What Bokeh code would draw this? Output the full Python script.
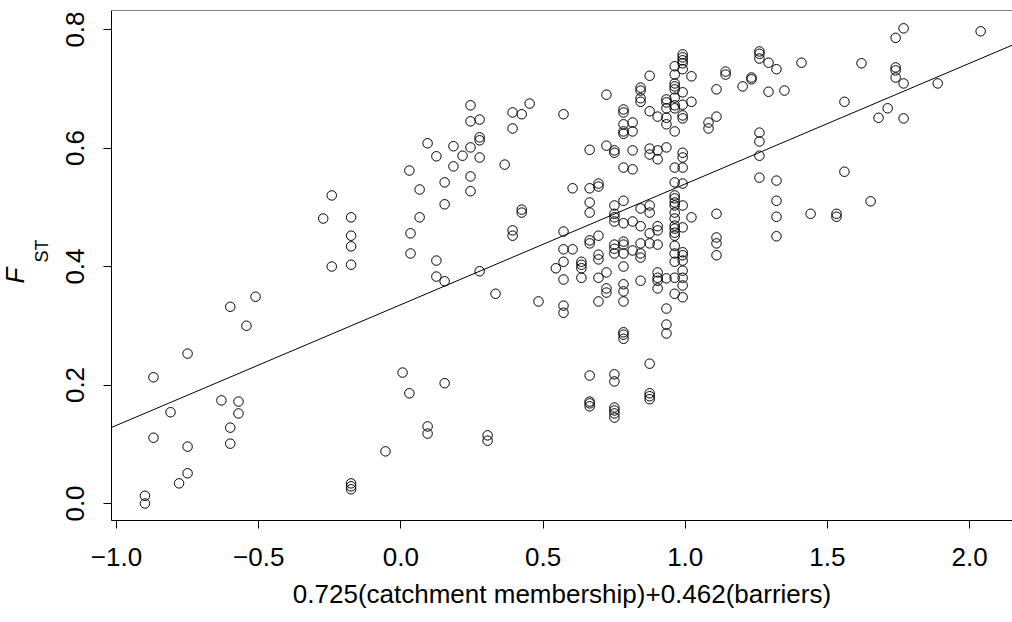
from bokeh.embed import file_html
from bokeh.models import ColumnDataSource, FixedTicker, Range1d, Slope, Span, Title
from bokeh.plotting import figure
from bokeh.resources import INLINE

# Composite score 0.725(catchment membership)+0.462(barriers) for each pair of sites,
# and the F_ST values observed at each score level
score_levels = [
    -0.900, -0.870, -0.810, -0.780, -0.750, -0.631, -0.600, -0.571, -0.543, -0.511,
    -0.273, -0.243, -0.175, -0.054, 0.006, 0.030, 0.034, 0.066, 0.094, 0.125,
    0.154, 0.185, 0.217, 0.245, 0.277, 0.305, 0.333, 0.365, 0.393, 0.425,
    0.453, 0.484, 0.545, 0.572, 0.604, 0.635, 0.664, 0.695, 0.723, 0.751,
    0.783, 0.815, 0.843, 0.875, 0.903, 0.934, 0.963, 0.991, 1.022, 1.082,
    1.110, 1.142, 1.202, 1.233, 1.261, 1.293, 1.321, 1.349, 1.409, 1.441,
    1.532, 1.560, 1.620, 1.652, 1.680, 1.712, 1.740, 1.768, 1.888, 2.039,
]

fst_at_level = [
    [0.013, 0.000],
    [0.213, 0.111],
    [0.154],
    [0.034],
    [0.253, 0.096, 0.051],
    [0.174],
    [0.332, 0.128, 0.101],
    [0.172, 0.152],
    [0.300],
    [0.349],
    [0.481],
    [0.520, 0.400],
    [0.483, 0.452, 0.434, 0.403, 0.034, 0.029, 0.024],
    [0.088],
    [0.221],
    [0.562, 0.186],
    [0.456, 0.422],
    [0.530, 0.483],
    [0.608, 0.130, 0.118],
    [0.586, 0.410, 0.383],
    [0.542, 0.505, 0.375, 0.203],
    [0.603, 0.569],
    [0.587],
    [0.672, 0.645, 0.601, 0.552, 0.527],
    [0.648, 0.618, 0.613, 0.584, 0.392],
    [0.115, 0.106],
    [0.354],
    [0.572],
    [0.660, 0.633, 0.461, 0.452],
    [0.657, 0.496, 0.491],
    [0.675],
    [0.341],
    [0.397],
    [0.657, 0.459, 0.429, 0.408, 0.378, 0.334, 0.322],
    [0.532, 0.429],
    [0.408, 0.403, 0.397, 0.381],
    [0.597, 0.532, 0.508, 0.491, 0.444, 0.439, 0.216, 0.172, 0.169, 0.164],
    [0.540, 0.535, 0.452, 0.420, 0.412, 0.381, 0.341],
    [0.690, 0.604, 0.390, 0.363, 0.356],
    [0.596, 0.592, 0.503, 0.489, 0.483, 0.476, 0.437, 0.430, 0.422, 0.218,
     0.206, 0.162, 0.157, 0.152, 0.145],
    [0.665, 0.660, 0.640, 0.628, 0.624, 0.567, 0.511, 0.473, 0.442, 0.437,
     0.422, 0.400, 0.370, 0.358, 0.341, 0.289, 0.285, 0.278],
    [0.643, 0.628, 0.596, 0.564, 0.476, 0.427],
    [0.702, 0.697, 0.684, 0.678, 0.498, 0.468, 0.439, 0.422, 0.415, 0.376],
    [0.722, 0.662, 0.599, 0.589, 0.503, 0.491, 0.456, 0.439, 0.236, 0.186,
     0.181, 0.176],
    [0.653, 0.596, 0.581, 0.468, 0.461, 0.437, 0.390, 0.381, 0.376, 0.363],
    [0.682, 0.677, 0.667, 0.651, 0.640, 0.601, 0.380, 0.329, 0.302, 0.287],
    [0.738, 0.724, 0.709, 0.704, 0.699, 0.685, 0.672, 0.667, 0.628, 0.567,
     0.542, 0.520, 0.515, 0.508, 0.503, 0.491, 0.481, 0.469, 0.464, 0.457,
     0.452, 0.435, 0.422, 0.408, 0.381, 0.354],
    [0.758, 0.753, 0.748, 0.743, 0.733, 0.694, 0.673, 0.655, 0.650, 0.592,
     0.584, 0.567, 0.540, 0.503, 0.466, 0.424, 0.419, 0.410, 0.393, 0.381,
     0.368, 0.348],
    [0.721, 0.678, 0.483],
    [0.643, 0.633],
    [0.699, 0.653, 0.489, 0.449, 0.439, 0.419],
    [0.729, 0.724],
    [0.704],
    [0.719, 0.716],
    [0.763, 0.759, 0.751, 0.626, 0.611, 0.587, 0.550],
    [0.744, 0.695],
    [0.733, 0.545, 0.511, 0.484, 0.451],
    [0.697],
    [0.744],
    [0.489],
    [0.489, 0.484],
    [0.678, 0.560],
    [0.743],
    [0.510],
    [0.651],
    [0.667],
    [0.786, 0.736, 0.731, 0.719],
    [0.802, 0.709, 0.650],
    [0.709],
    [0.797],
]

x_ticks = [-1.0, -0.5, 0.0, 0.5, 1.0, 1.5, 2.0]
x_tick_labels = ["\u22121.0", "\u22120.5", "0.0", "0.5", "1.0", "1.5", "2.0"]
y_ticks = [0.0, 0.2, 0.4, 0.6, 0.8]
y_tick_labels = ["0.0", "0.2", "0.4", "0.6", "0.8"]

# Least-squares line F_ST = a + b * score
fit_intercept = 0.3356
fit_slope = 0.2037

x_label = "0.725(catchment membership)+0.462(barriers)"

FONT = "Liberation Sans"

# Flatten the levels into one point table
xs, ys = [], []
for level, values in zip(score_levels, fst_at_level):
    for v in values:
        xs.append(level)
        ys.append(v)
source = ColumnDataSource(data=dict(score=xs, fst=ys))

p = figure(
    width=1012,
    height=622,
    output_backend="svg",
    toolbar_location=None,
    x_range=Range1d(-1.0176, 2.151),
    y_range=Range1d(-0.0287, 0.8321),
    min_border_left=111,
    min_border_right=0,
    min_border_top=10,
    min_border_bottom=102,
    background_fill_color="white",
    border_fill_color="white",
)
p.outline_line_color = None
p.xgrid.visible = False
p.ygrid.visible = False

# Points: open circles
p.scatter(
    "score", "fst", source=source, marker="circle", size=9.5,
    fill_color=None, line_color="black", line_width=1.0,
)

# Regression line across the whole plotting region
p.add_layout(Slope(gradient=fit_slope, y_intercept=fit_intercept,
                   line_color="black", line_width=1.0))

# Top edge of the box
p.add_layout(Span(location=0.8321, dimension="width",
                  line_color="black", line_width=1.0))

# Axes
for ax in (p.xaxis[0], p.yaxis[0]):
    ax.axis_line_color = "black"
    ax.axis_line_width = 1.0
    ax.major_tick_line_color = "black"
    ax.major_tick_in = 0
    ax.major_tick_out = 8
    ax.minor_tick_line_color = None
    ax.major_label_text_font = FONT
    ax.major_label_text_font_size = "26px"
    ax.major_label_text_color = "black"

xa = p.xaxis[0]
xa.ticker = FixedTicker(ticks=x_ticks)
xa.major_label_overrides = {t: s for t, s in zip(x_ticks, x_tick_labels)}
xa.major_label_standoff = 19
xa.axis_label = x_label
xa.axis_label_text_font = FONT
xa.axis_label_text_font_size = "26px"
xa.axis_label_text_font_style = "normal"
xa.axis_label_text_color = "black"
xa.axis_label_standoff = 10

ya = p.yaxis[0]
ya.ticker = FixedTicker(ticks=y_ticks)
ya.major_label_overrides = {t: s for t, s in zip(y_ticks, y_tick_labels)}
ya.major_label_orientation = "vertical"
ya.major_label_standoff = 19

# Y axis title: italic F with subscript ST, reading bottom to top.
# The subscript panel sits next to the axis, the F panel outside it.
p.add_layout(Title(
    text="ST", align="left", offset=258, standoff=20, vertical_align="top",
    text_font=FONT, text_font_size="18px", text_font_style="normal",
    text_color="black",
), "left")
p.add_layout(Title(
    text="F", align="left", offset=237, standoff=-17,
    text_font=FONT, text_font_size="26px", text_font_style="italic",
    text_color="black",
), "left")

open("out.html", "w").write(file_html(p, INLINE))
